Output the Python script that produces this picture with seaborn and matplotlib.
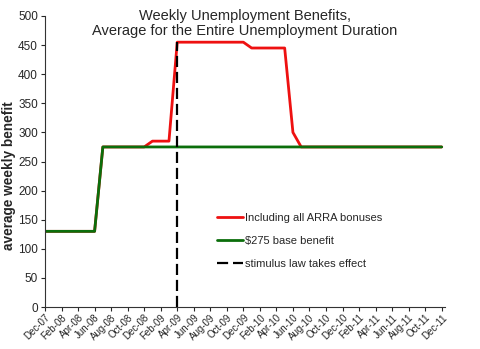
import matplotlib
matplotlib.use("Agg")
import matplotlib.pyplot as plt
import seaborn as sns
import pandas as pd
import numpy as np

# Monthly data, Dec-07 (0) .. Dec-11 (48)
arra_values = ([130] * 7 + [275] * 6 + [285] * 3 + [455] * 9 + [445] * 5
               + [300] + [275] * 18)
base_values = [130] * 7 + [275] * 42
stim_x = [16, 16]
stim_y = [0, 455]

tick_labels = ["Dec-07", "Feb-08", "Apr-08", "Jun-08", "Aug-08", "Oct-08",
               "Dec-08", "Feb-09", "Apr-09", "Jun-09", "Aug-09", "Oct-09",
               "Dec-09", "Feb-10", "Apr-10", "Jun-10", "Aug-10", "Oct-10",
               "Dec-10", "Feb-11", "Apr-11", "Jun-11", "Aug-11", "Oct-11",
               "Dec-11"]

series_names = ["Including all ARRA bonuses", "$275 base benefit"]
colors = ["#ee1111", "#0b6e0b"]

months = list(range(len(base_values)))
df = pd.DataFrame({
    "month": months * 2,
    "value": arra_values + base_values,
    "series": [series_names[0]] * len(months) + [series_names[1]] * len(months),
})
stim_df = pd.DataFrame({"x": stim_x, "y": stim_y})

sns.set_style("white")
plt.rcParams["font.family"] = ["Liberation Sans", "DejaVu Sans"]

fig = plt.figure(figsize=(4.8, 3.49), dpi=100)
ax = fig.add_axes([45 / 480, 1 - 307 / 349, (445 - 45) / 480, (307 - 16) / 349])

sns.lineplot(data=df, x="month", y="value", hue="series",
             palette=dict(zip(series_names, colors)), linewidth=2.0, ax=ax,
             sort=False)
sns.lineplot(data=stim_df, x="x", y="y", color="black", linewidth=1.6,
             linestyle=(0, (5, 2.2)), ax=ax, sort=False,
             label="stimulus law takes effect", estimator=None)

ax.set_xlim(0, 48.4)
ax.set_ylim(0, 500)
ax.set_yticks(np.arange(0, 501, 50))
ax.set_xticks(np.arange(0, 49, 2))
ax.set_xticklabels(tick_labels, rotation=45, ha="right", rotation_mode="anchor",
                   fontsize=7)
ax.tick_params(axis="y", labelsize=8.5, length=3, direction="out", left=True,
               width=0.8, pad=2)
ax.tick_params(axis="x", length=3, direction="out", bottom=True, width=0.8,
               pad=1)
ax.set_xlabel("")
ax.set_ylabel("average weekly benefit", fontsize=9.8, fontweight="bold")
ax.yaxis.set_label_coords(-29 / 400, (307 - 176) / 291)
for s in ["top", "right"]:
    ax.spines[s].set_visible(False)
for s in ["left", "bottom"]:
    ax.spines[s].set_color("#333333")
    ax.spines[s].set_linewidth(0.8)

ax.set_title("Weekly Unemployment Benefits,\nAverage for the Entire Unemployment Duration",
             fontsize=10.5, pad=-14, y=1.0, linespacing=1.15)

leg = ax.legend(loc="upper left", bbox_to_anchor=(0.42, 0.34), frameon=False,
                fontsize=8, handlelength=2.3, handletextpad=0.2,
                labelspacing=1.2, borderaxespad=0)

fig.savefig("out.png", dpi=100)
